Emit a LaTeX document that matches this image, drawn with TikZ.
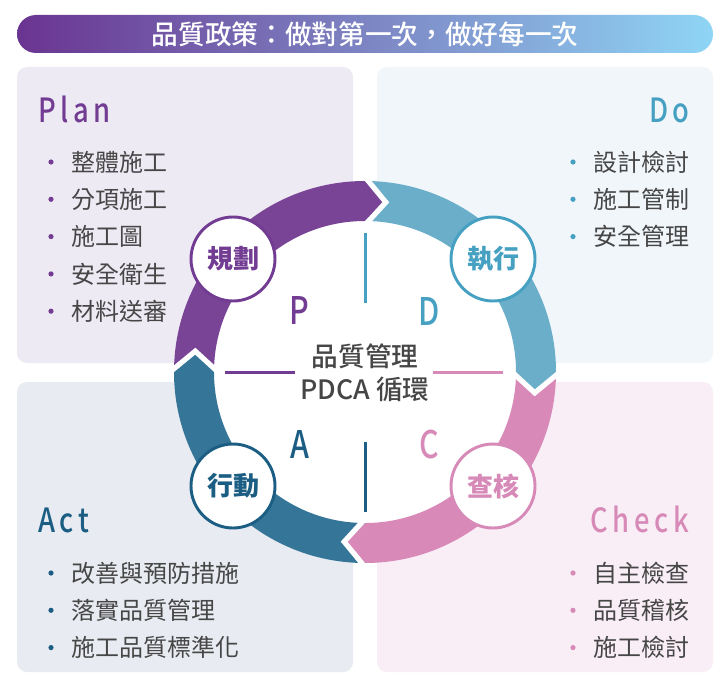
\documentclass[tikz,border=0pt]{standalone}
\usepackage{fontspec}
\setmainfont{Noto Sans CJK TC}
\newfontfamily\medfont{Noto Sans CJK TC Medium}
\newfontfamily\headfont[FakeStretch=0.82,LetterSpace=14]{Noto Sans CJK TC Medium}
\newfontfamily\letterfont[FakeStretch=0.8]{Noto Sans CJK TC Medium}
\usetikzlibrary{positioning}
\definecolor{pqPurple} {HTML}{7A4496}
\definecolor{pqBlue}   {HTML}{6AAEC9}
\definecolor{pqPink}   {HTML}{D889B7}
\definecolor{pqTeal}   {HTML}{347598}
\definecolor{pqPurpleD}{HTML}{723C93}
\definecolor{pqBlueD}  {HTML}{45A0C2}
\definecolor{pqPinkD}  {HTML}{D78AB8}
\definecolor{pqTealD}  {HTML}{1C5E83}
\definecolor{pqBgPlan} {HTML}{EEEAF4}
\definecolor{pqBgDo}   {HTML}{F1F6FB}
\definecolor{pqBgAct}  {HTML}{E8EBF1}
\definecolor{pqBgCheck}{HTML}{F9EEF6}
\definecolor{pqGray}   {HTML}{464646}
\definecolor{pqBarL}   {HTML}{6A3491}
\definecolor{pqBarR}   {HTML}{8FD5F5}

\begin{document}
\begin{tikzpicture}[x=0.75pt,y=-0.75pt,
      box/.style={rounded corners=7.5pt},
      badge/.style={circle,draw,fill=white,line width=2.2pt,minimum size=63pt,
                    inner sep=0pt,font=\fontsize{19.5}{20}\selectfont\bfseries},
      ltr/.style={font=\letterfont\fontsize{28.5}{30}\selectfont,inner sep=0pt,anchor=base},
      head/.style={font=\headfont\fontsize{25}{26}\selectfont,inner sep=0pt},
      item/.style={font=\fontsize{18}{20}\selectfont,text=pqGray,anchor=west,inner sep=0pt},
      cross/.style={line width=2.25pt}]

    \useasboundingbox (0,0) rectangle (716,674);
    \fill[white] (0,0) rectangle (716,674);

    % quadrant panels
    \fill[box,pqBgPlan]  (17,67)   rectangle (353,363);
    \fill[box,pqBgDo]    (377,67)  rectangle (713,363);
    \fill[box,pqBgAct]   (17,382)  rectangle (353,672);
    \fill[box,pqBgCheck] (377,382) rectangle (713,672);

    \node[shade,left color=pqBarL,right color=pqBarR,rounded corners=14.25pt,
          minimum width=522pt,minimum height=28.5pt,text=white,
          font=\medfont\fontsize{20}{20}\selectfont] (title) at (365,34) {品質政策：做對第一次，做好每一次};

    % PDCA ring
    \begin{scope}[shift={(365,372)},y=0.75pt]
      \fill[white] (0,0) circle (152);
      \foreach \c/\s in {pqPurple/180,pqBlue/90,pqPink/0,pqTeal/-90}
        \fill[\c] (\s:191) arc[start angle=\s,end angle=\s-90,radius=191]
          -- ({\s-97}:171) -- ({\s-90}:151)
          arc[start angle=\s-90,end angle=\s,radius=151] -- ({\s-7}:171) -- cycle;
      \foreach \s in {90,0,-90,-180}
        \draw[white,line width=3.9pt,line join=miter] (\s:195) -- ({\s-7}:171) -- (\s:147);

      \draw[cross,pqBlueD]   (0,69) -- (0,139);
      \draw[cross,pqTealD]   (0,-70) -- (0,-140);
      \draw[cross,pqPurpleD] (-140,0) -- (-70,0);
      \draw[cross,pqPinkD]   (68,0) -- (138,0);

      \node[ltr,text=pqPurpleD] (lP) at (-66,48)  {P};
      \node[ltr,text=pqBlueD]   (lD) at (64,47)   {D};
      \node[ltr,text=pqTealD]   (lA) at (-65,-86) {A};
      \node[ltr,text=pqPinkD]   (lC) at (64,-86)  {C};

      \node[text=pqGray,align=center,font=\medfont\fontsize{20}{24.75}\selectfont] (core) at (0,-1)
        {品質管理\\PDCA 循環};

      \node[badge,draw=pqPurpleD,text=pqPurpleD] (bdgP) at (-132,113)  {規劃};
      \node[badge,draw=pqBlueD,text=pqBlueD]     (bdgD) at (128,113)   {執行};
      \node[badge,draw=pqTealD,text=pqTealD]     (bdgA) at (-132,-114) {行動};
      \node[badge,draw=pqPinkD,text=pqPinkD]     (bdgC) at (128,-114)  {查核};
    \end{scope}

    % headings
    \node[head,text=pqPurpleD,anchor=base west] (hPlan)  at (38,122)  {Plan};
    \node[head,text=pqBlueD,anchor=base east]   (hDo)    at (690,122) {Do};
    \node[head,text=pqTealD,anchor=base west]   (hAct)   at (38,532)  {Act};
    \node[head,text=pqPinkD,anchor=base east]   (hCheck) at (689,532) {Check};

    % bullet lists
    \foreach \t [count=\i] in {整體施工,分項施工,施工圖,安全衛生,材料送審} {
      \fill[pqPurpleD] (51,{124.7+37.3*\i}) circle (2.6);
      \node[item] (plan\i) at (71,{124.7+37.3*\i}) {\t};
    }
    \foreach \t [count=\i] in {設計檢討,施工管制,安全管理} {
      \fill[pqBlueD] (573,{124.7+37.3*\i}) circle (2.6);
      \node[item] (do\i) at (593,{124.7+37.3*\i}) {\t};
    }
    \foreach \t [count=\i] in {改善與預防措施,落實品質管理,施工品質標準化} {
      \fill[pqTealD] (51,{535.7+37.3*\i}) circle (2.6);
      \node[item] (act\i) at (71,{535.7+37.3*\i}) {\t};
    }
    \foreach \t [count=\i] in {自主檢查,品質稽核,施工檢討} {
      \fill[pqPinkD] (573,{535.7+37.3*\i}) circle (2.6);
      \node[item] (chk\i) at (593,{535.7+37.3*\i}) {\t};
    }
  \end{tikzpicture}
\end{document}
